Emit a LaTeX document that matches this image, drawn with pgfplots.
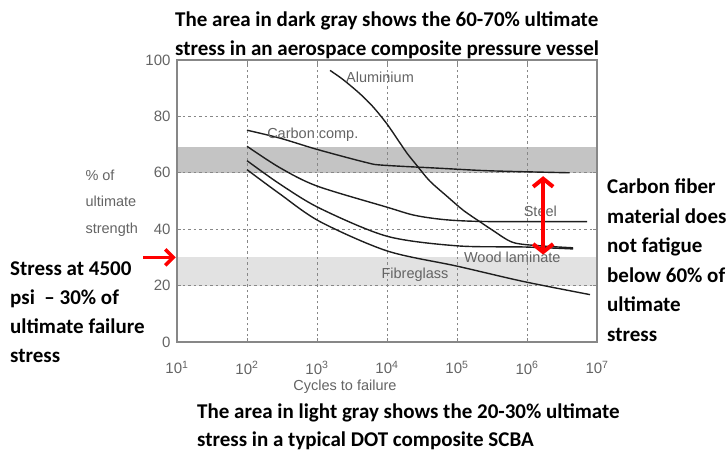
\documentclass[border=0pt]{standalone}
\usepackage{fontspec}
\setmainfont{Liberation Sans}
\newfontfamily\calib{Carlito}
\usepackage{pgfplots}
\pgfplotsset{compat=1.18}
\usetikzlibrary{arrows.meta}
\definecolor{axgray}{RGB}{135,135,135}
\definecolor{txtgray}{RGB}{100,100,100}
\definecolor{darkband}{RGB}{196,196,196}
\definecolor{lightband}{RGB}{226,226,226}
\definecolor{curve}{RGB}{30,30,30}
\begin{document}
\begin{tikzpicture}[x=1bp,y=1bp]
\begin{axis}[
  at={(177bp,115bp)}, anchor=south west,
  scale only axis, width=420bp, height=282bp,
  xmode=log, log basis x=10,
  xmin=10, xmax=1e7, ymin=0, ymax=100,
  set layers, clip=false,
  xtick={10,100,1000,10000,100000,1000000,10000000},
  xticklabels={10\textsuperscript{1},10\textsuperscript{2},10\textsuperscript{3},10\textsuperscript{4},10\textsuperscript{5},10\textsuperscript{6},10\textsuperscript{7}},
  minor xtick={},
  ytick={0,20,40,60,80,100},
  yticklabels={0,20,40,60,80,100},
  xtick pos=both, ytick pos=both,
  tick align=inside, major tick length=4bp,
  tick style={axgray, line width=0.8bp},
  axis line style={axgray, line width=1.2bp},
  grid=major,
  major grid style={axgray, line width=0.9bp, dash pattern=on 2.5bp off 3bp},
  ticklabel style={font=\fontsize{15bp}{15bp}\selectfont, text=txtgray},
  xticklabel style={yshift=-16bp},
  yticklabel style={xshift=-3bp},
]
\addplot[on layer=axis background, fill=darkband, draw=none] coordinates {(10,60) (1e7,60) (1e7,69) (10,69)} -- cycle;
\addplot[on layer=axis background, fill=lightband, draw=none] coordinates {(10,20) (1e7,20) (1e7,30) (10,30)} -- cycle;
% Aluminium
\addplot[curve, line width=1.4bp, smooth] coordinates {
 (1535,96.3) (2344,93.1) (4074,88.1) (6310,83.4) (10000,77.3) (15490,70.4) (19500,66.8) (26900,62.5) (40740,57.1) (72440,51.6) (123000,46.7) (213800,42.6) (323600,39.6) (631000,35.3) (1550000,34.1) (4570000,33.4)};
% Carbon comp.
\addplot[curve, line width=1.4bp, smooth] coordinates {
 (100,75.1) (295,72.3) (1000,68.3) (5130,63.6) (8710,62.7) (57500,61.6) (295000,60.7) (4070000,60.0)};
% Steel
\addplot[curve, line width=1.4bp, smooth] coordinates {
 (100,69.4) (295,61.8) (1000,55.3) (10000,47.8) (25100,44.9) (72400,43.3) (295000,42.7) (7240000,42.7)};
% Wood laminate
\addplot[curve, line width=1.4bp, smooth] coordinates {
 (100,64.3) (295,56) (1100,47.4) (10000,37.5) (100000,34.1) (871000,33.7) (4570000,33.0)};
% Fibreglass
\addplot[curve, line width=1.4bp, smooth] coordinates {
 (100,61.1) (295,52.5) (1100,42.7) (10000,32.3) (100000,26.9) (871000,21.5) (7940000,16.8)};
\begin{scope}[font=\fontsize{14.5bp}{14.5bp}\selectfont, text=txtgray]
\node at (axis cs:7943,94) {Aluminium};
\node at (axis cs:871,73.6) {Carbon comp.};
\node at (axis cs:1550000,46.3) {Steel};
\node at (axis cs:616000,30.1) {Wood laminate};
\node at (axis cs:25100,24) {Fibreglass};
\end{scope}
\draw[red, line width=3.5bp, -{Straight Barb[length=8bp,width=16bp]}] (axis cs:3.3,30) -- (axis cs:9.6,30);
\draw[red, line width=4bp, {Straight Barb[length=8bp,width=20bp]}-{Straight Barb[length=8bp,width=20bp]}] (axis cs:1700000,58.8) -- (axis cs:1700000,31);
\end{axis}
% axis titles
\node[anchor=north west, align=left, text=txtgray, font=\fontsize{14.5bp}{26.5bp}\selectfont] at (82,457-166) {\% of\\ultimate\\strength};
\node[text=txtgray, font=\fontsize{14.5bp}{14.5bp}\selectfont] at (345,457-387) {Cycles to failure};
% annotations
\begin{scope}[font=\calib\bfseries\fontsize{21bp}{21bp}\selectfont, inner sep=0pt]
\node[anchor=base west] at (175,457-27) {The area in dark gray shows the 60-70\% ultimate};
\node[anchor=base west] at (175,457-56) {stress in an aerospace composite pressure vessel};
\node[anchor=base west] at (197,457-419) {The area in light gray shows the 20-30\% ultimate};
\node[anchor=base west] at (197,457-447) {stress in a typical DOT composite SCBA};
\node[anchor=base west] at (10,457-276) {Stress at 4500};
\node[anchor=base west] at (10,457-305) {psi\ \ – 30\% of};
\node[anchor=base west] at (10,457-334) {ultimate failure};
\node[anchor=base west] at (10,457-363) {stress};
\node[anchor=base west] at (607,457-194) {Carbon fiber};
\node[anchor=base west] at (607,457-224) {material does};
\node[anchor=base west] at (607,457-253) {not fatigue};
\node[anchor=base west] at (607,457-283) {below 60\% of};
\node[anchor=base west] at (607,457-312) {ultimate};
\node[anchor=base west] at (607,457-342) {stress};
\end{scope}
\pgfresetboundingbox
\path[use as bounding box] (0,0) rectangle (727,457);
\end{tikzpicture}
\end{document}
